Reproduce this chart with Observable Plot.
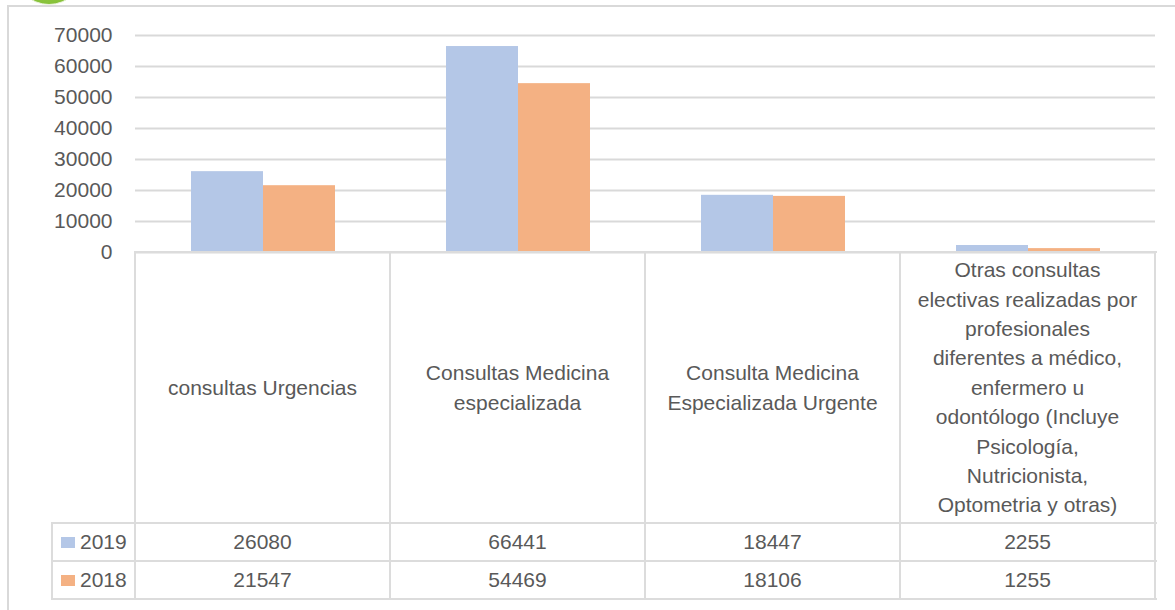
<!DOCTYPE html>
<html>
<head>
<meta charset="utf-8">
<script src="https://cdn.jsdelivr.net/npm/d3@7"></script>
<script src="https://cdn.jsdelivr.net/npm/@observablehq/plot@0.6"></script>
<style>
  html, body { margin: 0; padding: 0; background: #fff; }
  #wrap { position: relative; width: 1175px; height: 610px; overflow: hidden; font-family: "Liberation Sans", Arial, sans-serif; color: #595959; }
  .abs { position: absolute; }
  .hl { position: absolute; height: 2px; background: #dcdcdc; }
  .vl { position: absolute; width: 2px; background: #dcdcdc; }
  .cell { position: absolute; display: flex; align-items: center; justify-content: center; text-align: center; font-size: 21px; line-height: 29.4px; white-space: pre-line; color: #595959; }
</style>
</head>
<body>
<div id="wrap"></div>
<script>
// ---- data ----
const categories = [
  "consultas Urgencias",
  "Consultas Medicina especializada",
  "Consulta Medicina Especializada Urgente",
  "Otras consultas electivas realizadas por profesionales diferentes a médico, enfermero u odontólogo (Incluye Psicología, Nutricionista, Optometria y otras)"
];
const categoryLabels = [
  "consultas Urgencias",
  "Consultas Medicina\nespecializada",
  "Consulta Medicina\nEspecializada Urgente",
  "Otras consultas\nelectivas realizadas por\nprofesionales\ndiferentes a médico,\nenfermero u\nodontólogo (Incluye\nPsicología,\nNutricionista,\nOptometria y otras)"
];
const seriesNames = ["2019", "2018"];
const values2019 = [26080, 66441, 18447, 2255];
const values2018 = [21547, 54469, 18106, 1255];
const seriesColors = ["#b4c7e7", "#f4b183"];
const yTicks = [0, 10000, 20000, 30000, 40000, 50000, 60000, 70000];

const seriesValues = [values2019, values2018];
const rows = [];
categories.forEach((c, i) => {
  seriesNames.forEach((s, j) => rows.push({category: c, year: s, value: seriesValues[j][i]}));
});

const wrap = document.getElementById("wrap");

// outer chart border (cropped)
const border = document.createElement("div");
border.className = "abs";
Object.assign(border.style, {left: "7px", top: "5px", width: "1300px", height: "800px",
  borderLeft: "2px solid #d9d9d9", borderTop: "2px solid #d9d9d9"});
wrap.appendChild(border);

// partial green logo at top-left
const logo = document.createElement("div");
logo.className = "abs";
Object.assign(logo.style, {left: "14px", top: "-65px", width: "68px", height: "68px", borderRadius: "50%",
  background: "radial-gradient(circle at 50% 40%, #a6d65a, #7dbb2f)", border: "1px solid #e8f3d8", zIndex: 5});
wrap.appendChild(logo);

// ---- chart ----
const plot = Plot.plot({
  width: 1175,
  height: 254,
  marginLeft: 135,
  marginRight: 20,
  marginTop: 35,
  marginBottom: 2,
  style: {fontFamily: "'Liberation Sans', Arial, sans-serif", fontSize: "21px", color: "#595959", background: "transparent", overflow: "visible"},
  fx: {domain: categories, padding: 0, axis: null},
  x: {domain: seriesNames, paddingInner: 0, paddingOuter: 0.747, axis: null},
  y: {domain: [0, 70000], axis: null},
  color: {domain: seriesNames, range: seriesColors},
  marks: [
    Plot.gridY(yTicks, {stroke: "#d9d9d9", strokeOpacity: 1, strokeWidth: 2}),
    Plot.barY(rows, {fx: "category", x: "year", y: "value", fill: "year"}),
    Plot.axisY(yTicks, {tickSize: 0, tickPadding: 23, tickFormat: d => String(d), fill: "#595959", fontSize: 21, label: null})
  ]
});
plot.style.position = "absolute";
plot.style.left = "0px";
plot.style.top = "0px";
wrap.appendChild(plot);

// ---- data table ----
const colLeft = 135, colW = 255, legendLeft = 52;
const rowY = [252, 523, 561, 599];
function add(cls, styles, text) {
  const d = document.createElement("div");
  d.className = cls;
  Object.assign(d.style, styles);
  if (text !== undefined) d.textContent = text;
  wrap.appendChild(d);
  return d;
}
// horizontal lines
add("hl", {left: colLeft + "px", top: (rowY[0] - 1) + "px", width: (colW * 4 + 2) + "px"});
for (let r = 1; r < rowY.length; r++) {
  add("hl", {left: legendLeft + "px", top: (rowY[r] - 1) + "px", width: (colLeft + colW * 4 - legendLeft + 2) + "px"});
}
// vertical lines
add("vl", {left: (legendLeft - 1) + "px", top: (rowY[1] - 1) + "px", height: (rowY[3] - rowY[1] + 2) + "px"});
for (let c = 0; c <= categories.length; c++) {
  add("vl", {left: (colLeft + c * colW - 1) + "px", top: (rowY[0] - 1) + "px", height: (rowY[3] - rowY[0] + 2) + "px"});
}
// category cells
categoryLabels.forEach((lab, i) => {
  add("cell", {left: (colLeft + i * colW) + "px", top: rowY[0] + "px", width: colW + "px", height: (rowY[1] - rowY[0]) + "px"}, lab);
});
// value rows
seriesNames.forEach((s, j) => {
  const top = rowY[j + 1], h = rowY[j + 2] - rowY[j + 1];
  const lg = add("cell", {left: legendLeft + "px", top: top + "px", width: (colLeft - legendLeft) + "px", height: h + "px", justifyContent: "flex-start"});
  const sw = document.createElement("span");
  Object.assign(sw.style, {display: "inline-block", width: "14px", height: "11px", background: seriesColors[j], marginLeft: "9px", marginRight: "5px"});
  lg.appendChild(sw);
  lg.appendChild(document.createTextNode(s));
  seriesValues[j].forEach((v, i) => {
    add("cell", {left: (colLeft + i * colW) + "px", top: top + "px", width: colW + "px", height: h + "px"}, String(v));
  });
});
</script>
</body>
</html>
